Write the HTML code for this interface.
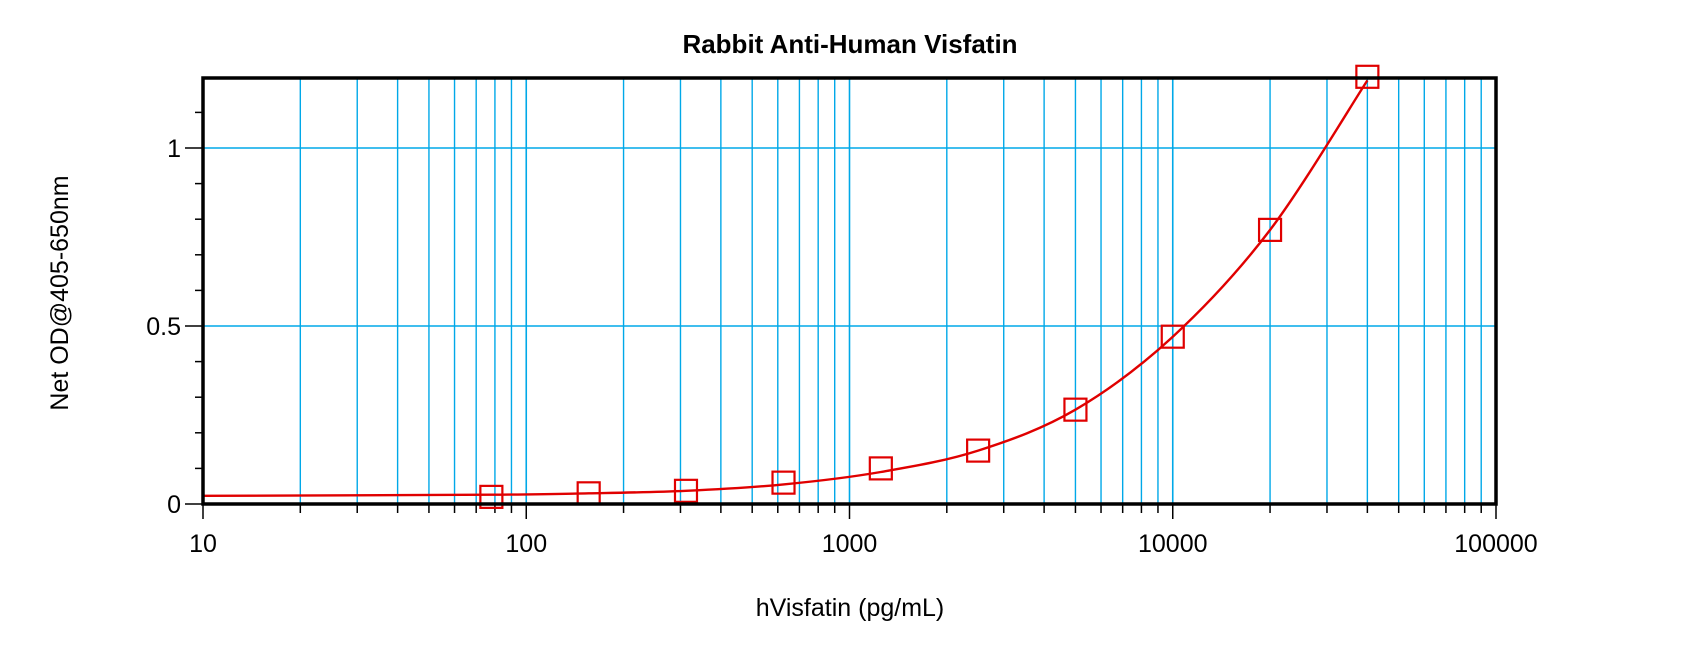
<!DOCTYPE html>
<html><head><meta charset="utf-8"><style>
html,body{margin:0;padding:0;background:#fff;}
svg{display:block;}
text{font-family:"Liberation Sans",Arial,sans-serif;fill:#000;}
</style></head><body>
<svg id="c" width="1700" height="648" xmlns="http://www.w3.org/2000/svg"></svg>
<script>
const s=document.getElementById('c');
const L=203,R=1496,T=78,B=504;
const X=v=>L+(Math.log10(v)-1)*(R-L)/4;
const Y=v=>B-356*v;
let h='';
for(let d=1;d<=4;d++){for(let m=1;m<=9;m++){const v=m*Math.pow(10,d);if(v<=10||v>=100000)continue;const x=X(v);
h+=`<line x1="${x}" y1="${T}" x2="${x}" y2="${B}" stroke="#00a8e8" stroke-width="${m==1?1.6:1.4}"/>`;
h+=`<line x1="${x}" y1="${B}" x2="${x}" y2="${B+(m==1?15:9)}" stroke="#000" stroke-width="1.5"/>`;}}
h+=`<line x1="${L}" y1="${B}" x2="${L}" y2="${B+15}" stroke="#000" stroke-width="1.5"/>`;
h+=`<line x1="${R}" y1="${B}" x2="${R}" y2="${B+15}" stroke="#000" stroke-width="1.5"/>`;
[0.5,1].forEach(v=>{h+=`<line x1="${L}" y1="${Y(v)}" x2="${R}" y2="${Y(v)}" stroke="#00a8e8" stroke-width="1.6"/>`;});
for(let i=0;i<=11;i++){const y=Y(i/10);h+=`<line x1="${L-(i%5==0?18:8)}" y1="${y}" x2="${L}" y2="${y}" stroke="#000" stroke-width="1.5"/>`;}
// curve via Catmull-Rom in log space
const K=[[10,0.023],[78,0.026],[156,0.03],[312,0.037],[625,0.055],[1250,0.09],[2500,0.15],[5000,0.265],[10000,0.47],[20000,0.77],[40000,1.19]].map(([x,y])=>[X(x),Y(y)]);
let d=`M${K[0][0]},${K[0][1]}`;
for(let i=0;i<K.length-1;i++){const p0=K[Math.max(0,i-1)],p1=K[i],p2=K[i+1],p3=K[Math.min(K.length-1,i+2)];
const c1=[p1[0]+(p2[0]-p0[0])/6,p1[1]+(p2[1]-p0[1])/6],c2=[p2[0]-(p3[0]-p1[0])/6,p2[1]-(p3[1]-p1[1])/6];
d+=` C${c1[0].toFixed(1)},${c1[1].toFixed(1)} ${c2[0].toFixed(1)},${c2[1].toFixed(1)} ${p2[0].toFixed(1)},${p2[1].toFixed(1)}`;}
h+=`<path d="${d}" fill="none" stroke="#e00000" stroke-width="2.4"/>`;
const pts=[[78,0.02],[156,0.03],[312,0.037],[625,0.06],[1250,0.1],[2500,0.15],[5000,0.265],[10000,0.47],[20000,0.77],[40000,1.2]];
pts.forEach(([x,y])=>{h+=`<rect x="${X(x)-11}" y="${Y(y)-11}" width="22" height="22" fill="none" stroke="#e00000" stroke-width="2.2"/>`;});
h+=`<rect x="${L}" y="${T}" width="${R-L}" height="${B-T}" fill="none" stroke="#000" stroke-width="3.5"/>`;
[[0,'0'],[0.5,'0.5'],[1,'1']].forEach(([v,t])=>{h+=`<text x="181" y="${Y(v)+9}" font-size="25" text-anchor="end">${t}</text>`;});
['10','100','1000','10000','100000'].forEach((t,i)=>{h+=`<text x="${L+i*(R-L)/4}" y="552" font-size="25" text-anchor="middle">${t}</text>`;});
h+=`<text x="850" y="53" font-size="26" font-weight="bold" text-anchor="middle">Rabbit Anti-Human Visfatin</text>`;
h+=`<text x="850" y="616" font-size="25" text-anchor="middle">hVisfatin (pg/mL)</text>`;
h+=`<text transform="translate(68,293) rotate(-90)" font-size="25" text-anchor="middle">Net OD@405-650nm</text>`;
s.innerHTML=h;
</script>
</body></html>
